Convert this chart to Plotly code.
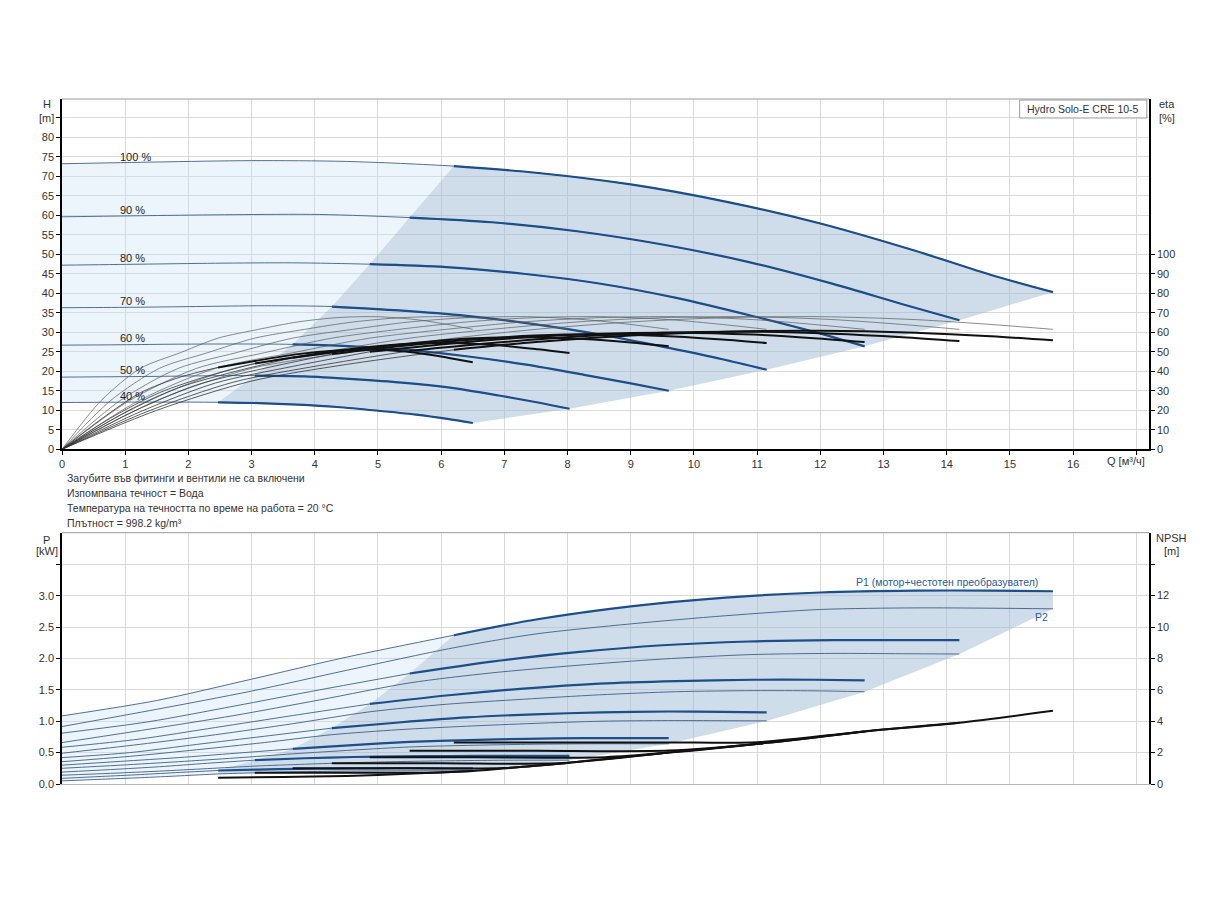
import plotly.graph_objects as go

# speed curves of the pump, %
SPEEDS = [100, 90, 80, 70, 60, 50, 40]

# flow points per speed [m3/h]; index 4 is where the preferred (dark) area starts
Q100 = [0, 1.5, 3, 4.5, 6.2, 7.5, 9, 10.5, 12, 13.5, 14.7, 15.68]
Q90 = [0, 1.36, 2.72, 4.08, 5.5, 6.8, 8.15, 9.5, 10.87, 12.2, 13.3, 14.2]
Q80 = [0, 1.22, 2.43, 3.65, 4.87, 6.08, 7.3, 8.5, 9.72, 10.94, 11.9, 12.7]
Q70 = [0, 1.07, 2.13, 3.2, 4.27, 5.33, 6.4, 7.47, 8.53, 9.6, 10.45, 11.15]
Q60 = [0, 0.92, 1.84, 2.75, 3.65, 4.6, 5.5, 6.43, 7.35, 8.26, 9.0, 9.6]
Q50 = [0, 0.77, 1.54, 2.3, 3.05, 3.84, 4.61, 5.38, 6.14, 6.91, 7.53, 8.03]
Q40 = [0, 0.62, 1.24, 1.87, 2.47, 3.11, 3.73, 4.35, 4.97, 5.6, 6.1, 6.5]

# head [m]
H100 = [73.2, 73.65, 74.0, 73.8, 72.6, 70.9, 67.9, 63.5, 57.9, 50.9, 44.7, 40.3]
H90 = [59.6, 59.9, 60.15, 60.2, 59.4, 58.2, 55.9, 52.5, 48.0, 42.4, 37.2, 33.1]
H80 = [47.2, 47.45, 47.7, 47.8, 47.45, 46.7, 45.0, 42.5, 38.8, 34.1, 30.1, 26.4]
H70 = [36.3, 36.4, 36.6, 36.8, 36.6, 35.6, 34.2, 32.1, 29.4, 26.0, 23.1, 20.4]
H60 = [26.7, 26.8, 26.95, 27.0, 26.9, 26.4, 25.4, 23.8, 21.7, 19.1, 16.9, 15.0]
H50 = [18.5, 18.6, 18.7, 18.85, 18.9, 18.7, 18.0, 17.1, 15.8, 13.8, 12.0, 10.4]
H40 = [12.0, 12.05, 12.1, 12.1, 12.05, 11.85, 11.45, 10.85, 9.95, 8.9, 7.8, 6.75]

# pump efficiency [%] (same shape at every speed)
ETA_PUMP = [0, 25, 41.5, 49.5, 57, 61.5, 65.3, 67.5, 68, 66.5, 64, 61.5]

# total efficiency, motor + converter [%]
ETA100 = [0, 20, 35, 43.5, 51, 55, 58.3, 60.3, 60.8, 59.8, 58, 55.9]
ETA90 = [0, 19.5, 34.5, 43, 50.5, 54.5, 57.8, 59.8, 60.3, 59.3, 57.5, 55.5]
ETA80 = [0, 19, 34, 42.5, 50, 54, 57.3, 59.3, 59.8, 58.8, 57, 55]
ETA70 = [0, 18.5, 33, 41.5, 48.8, 52.8, 56, 58.3, 59, 58, 56.3, 54.5]
ETA60 = [0, 17.5, 31.5, 40, 47, 51, 54.3, 56.8, 57.5, 56.5, 54.7, 52.8]
ETA50 = [0, 16, 29, 37.5, 44, 48, 51.5, 53.8, 54.5, 53.3, 51.3, 49.4]
ETA40 = [0, 15.5, 29, 37, 42, 45.6, 48.8, 50.6, 51, 49.5, 47, 44.6]

# P1 input power [kW]
P1_100 = [1.085, 1.33, 1.67, 2.02, 2.37, 2.62, 2.83, 2.97, 3.05, 3.08, 3.08, 3.07]
P1_90 = [0.81, 0.99, 1.24, 1.50, 1.76, 1.95, 2.10, 2.21, 2.27, 2.29, 2.29, 2.29]
P1_80 = [0.585, 0.715, 0.90, 1.09, 1.275, 1.41, 1.52, 1.60, 1.64, 1.66, 1.66, 1.65]
P1_70 = [0.42, 0.50, 0.63, 0.76, 0.89, 0.98, 1.06, 1.11, 1.14, 1.155, 1.15, 1.14]
P1_60 = [0.30, 0.36, 0.42, 0.49, 0.56, 0.62, 0.67, 0.70, 0.72, 0.73, 0.732, 0.73]
P1_50 = [0.19, 0.23, 0.275, 0.33, 0.38, 0.41, 0.43, 0.44, 0.446, 0.449, 0.448, 0.447]
P1_40 = [0.09, 0.12, 0.15, 0.185, 0.215, 0.23, 0.24, 0.245, 0.25, 0.252, 0.251, 0.25]

# P2 shaft power [kW]
P2_100 = [0.915, 1.19, 1.48, 1.81, 2.17, 2.39, 2.55, 2.68, 2.78, 2.805, 2.80, 2.79]
P2_90 = [0.66, 0.87, 1.09, 1.34, 1.61, 1.77, 1.89, 1.99, 2.06, 2.08, 2.075, 2.07]
P2_80 = [0.49, 0.63, 0.785, 0.96, 1.15, 1.27, 1.35, 1.42, 1.47, 1.487, 1.484, 1.47]
P2_70 = [0.355, 0.44, 0.545, 0.66, 0.785, 0.865, 0.92, 0.965, 1.0, 1.01, 1.008, 1.005]
P2_60 = [0.25, 0.30, 0.355, 0.415, 0.48, 0.54, 0.59, 0.615, 0.632, 0.64, 0.641, 0.64]
P2_50 = [0.14, 0.17, 0.205, 0.245, 0.285, 0.315, 0.34, 0.358, 0.37, 0.378, 0.38, 0.38]
P2_40 = [0.05, 0.075, 0.10, 0.13, 0.16, 0.18, 0.195, 0.203, 0.208, 0.21, 0.21, 0.21]

# NPSH [m]
NQ100 = [6.2, 8, 10, 11.0, 12.7, 14.2, 15.68]
NPSH100 = [2.64, 2.64, 2.64, 2.66, 3.35, 3.9, 4.66]
NQ90 = [5.5, 7.5, 9.6, 11.15, 12.7, 14.2]
NPSH90 = [2.12, 2.12, 2.13, 2.62, 3.35, 3.9]
NQ80 = [4.87, 6.5, 8.6, 9.6, 11.15, 12.7]
NPSH80 = [1.70, 1.70, 1.71, 2.0, 2.62, 3.35]
NQ70 = [4.27, 6.0, 7.9, 9.6, 11.15]
NPSH70 = [1.32, 1.32, 1.33, 2.0, 2.62]
NQ60 = [3.65, 5.5, 7.0, 8.03, 9.6]
NPSH60 = [1.0, 1.0, 1.02, 1.36, 2.0]
NQ50 = [3.05, 4.5, 6.0, 6.5, 8.03]
NPSH50 = [0.72, 0.72, 0.74, 0.83, 1.36]
NQ40 = [2.47, 3.5, 4.5, 5.0, 6.5]
NPSH40 = [0.40, 0.45, 0.51, 0.57, 0.83]

NOTES = [
    "Загубите във фитинги и вентили не са включени",
    "Изпомпвана течност = Вода",
    "Температура на течността по време на работа = 20 °C",
    "Плътност = 998.2 kg/m³",
]

C = {
    100: dict(q=Q100, h=H100, eta=ETA100, p1=P1_100, p2=P2_100, nq=NQ100, npsh=NPSH100),
    90: dict(q=Q90, h=H90, eta=ETA90, p1=P1_90, p2=P2_90, nq=NQ90, npsh=NPSH90),
    80: dict(q=Q80, h=H80, eta=ETA80, p1=P1_80, p2=P2_80, nq=NQ80, npsh=NPSH80),
    70: dict(q=Q70, h=H70, eta=ETA70, p1=P1_70, p2=P2_70, nq=NQ70, npsh=NPSH70),
    60: dict(q=Q60, h=H60, eta=ETA60, p1=P1_60, p2=P2_60, nq=NQ60, npsh=NPSH60),
    50: dict(q=Q50, h=H50, eta=ETA50, p1=P1_50, p2=P2_50, nq=NQ50, npsh=NPSH50),
    40: dict(q=Q40, h=H40, eta=ETA40, p1=P1_40, p2=P2_40, nq=NQ40, npsh=NPSH40),
}
B = 4  # boundary index
mid = SPEEDS[1:-1]          # 90 .. 50
low = SPEEDS[1:]            # 90 .. 40

BLUE = "#1c4e89"
THIN_BLUE = "#3f5f86"
LIGHT_FILL = "rgba(200,225,245,0.35)"
DARK_FILL = "rgba(160,187,213,0.5)"

fig = go.Figure()


def line(x, y, xa, ya, color, width):
    fig.add_trace(go.Scatter(x=x, y=y, xaxis=xa, yaxis=ya, mode="lines",
                             line=dict(color=color, width=width, shape="spline", smoothing=0.8),
                             hoverinfo="skip", showlegend=False))


def area(x, y, xa, ya, color):
    fig.add_trace(go.Scatter(x=x, y=y, xaxis=xa, yaxis=ya, mode="lines", fill="toself",
                             fillcolor=color, line=dict(width=0), hoverinfo="skip",
                             showlegend=False))


# ---- areas, top (H)
area(C[100]["q"][:B + 1] + [C[n]["q"][B] for n in mid] + C[40]["q"][B::-1],
     C[100]["h"][:B + 1] + [C[n]["h"][B] for n in mid] + C[40]["h"][B::-1],
     "x", "y", LIGHT_FILL)
area(C[100]["q"][B:] + [C[n]["q"][-1] for n in mid] + C[40]["q"][:B - 1:-1] + [C[n]["q"][B] for n in mid[::-1]],
     C[100]["h"][B:] + [C[n]["h"][-1] for n in mid] + C[40]["h"][:B - 1:-1] + [C[n]["h"][B] for n in mid[::-1]],
     "x", "y", DARK_FILL)

# ---- areas, bottom (P)
area(C[100]["q"][:B + 1] + [C[n]["q"][B] for n in low] + C[40]["q"][B::-1],
     C[100]["p1"][:B + 1] + [C[n]["p1"][B] for n in low] + C[40]["p2"][B::-1],
     "x2", "y3", LIGHT_FILL)
area(C[40]["q"][B:] + [C[n]["q"][-1] for n in mid[::-1]] + [C[100]["q"][-1]] + C[100]["q"][:B - 1:-1] + [C[n]["q"][B] for n in low],
     C[40]["p2"][B:] + [C[n]["p2"][-1] for n in mid[::-1]] + [C[100]["p2"][-1]] + C[100]["p1"][:B - 1:-1] + [C[n]["p1"][B] for n in low],
     "x2", "y3", DARK_FILL)

# ---- curves
for n in SPEEDS:
    c = C[n]
    q = c["q"]
    # efficiency
    line(q, ETA_PUMP, "x", "y2", "#5a5a5a", 0.7)
    line(q[:B + 1], c["eta"][:B + 1], "x", "y2", "#333333", 0.8)
    line(q[B:], c["eta"][B:], "x", "y2", "#111111", 2)
    # head
    line(q, c["h"], "x", "y", THIN_BLUE, 0.9)
    line(q[B:], c["h"][B:], "x", "y", BLUE, 2.2)
    # power
    line(q, c["p2"], "x2", "y3", THIN_BLUE, 0.9)
    line(q[:B + 1], c["p1"][:B + 1], "x2", "y3", THIN_BLUE, 0.9)
    line(q[B:], c["p1"][B:], "x2", "y3", BLUE, 2.2)
    # NPSH
    line(c["nq"], c["npsh"], "x2", "y4", "#111111", 2)

ann = []
for n in SPEEDS:
    ann.append(dict(x=0.886, y=C[n]["h"][0], xref="x", yref="y", text=f"{n} %", showarrow=False,
                    xanchor="left", yanchor="middle", yshift=7, font=dict(size=11, color="#222")))


def ptxt(x, y, text, **kw):
    d = dict(x=x, y=y, xref="paper", yref="paper", text=text, showarrow=False,
             font=dict(size=11, color="#333"), xanchor="center", yanchor="middle")
    d.update(kw)
    ann.append(d)


ptxt(-0.0138, 0.9927, "H")
ptxt(-0.0138, 0.9723, "[m]")
ptxt(1.0166, 0.9927, "eta")
ptxt(1.0166, 0.9723, "[%]")
ptxt(-0.0138, 0.3562, "P")
ptxt(-0.0138, 0.340, "[kW]")
ptxt(1.021, 0.359, "NPSH")
ptxt(1.021, 0.340, "[m]")
ptxt(0.998, 0.4715, "Q [м³/ч]", xanchor="right")
ptxt(0.939, 0.9854, "Hydro Solo-E CRE 10-5", font=dict(size=10.5, color="#333"))
for i, t in enumerate(NOTES):
    ptxt(0.0028, 0.4467 - i * 0.0219, t, xanchor="left", font=dict(size=10.5, color="#333"))

ann.append(dict(x=C[100]["q"][-1], y=C[100]["p1"][-1], xref="x2", yref="y3",
                text="P1 (мотор+честотен преобразувател)", showarrow=False,
                xanchor="right", yanchor="middle", xshift=-13, yshift=9,
                font=dict(size=10.5, color="#2a5c96")))
ann.append(dict(x=C[100]["q"][-1], y=C[100]["p2"][-1], xref="x2", yref="y3", text="P2",
                showarrow=False, xanchor="right", yanchor="middle", xshift=-3, yshift=-8,
                font=dict(size=10.5, color="#2a5c96")))

shapes = [
    dict(type="line", xref="paper", yref="paper", x0=0, x1=1, y0=1, y1=1,
         line=dict(color="#9a9a9a", width=1)),
    dict(type="line", xref="paper", yref="paper", x0=0, x1=1, y0=0.3669, y1=0.3669,
         line=dict(color="#9a9a9a", width=1)),
    dict(type="rect", xref="paper", yref="paper", x0=0.881, x1=0.998, y0=0.9723, y1=0.9985,
         line=dict(color="#9a9a9a", width=1), fillcolor="white"),
]

QMAX = 17.2
grid = "#d9d9d9"
xax = dict(range=[0, QMAX], tickmode="array", tickvals=list(range(18)),
           showgrid=True, gridcolor=grid, gridwidth=1, zeroline=False,
           showline=True, linecolor="black", linewidth=1.5,
           ticks="outside", ticklen=4, tickcolor="black", tickfont=dict(size=11, color="#333"))
yax = dict(showgrid=True, gridcolor=grid, gridwidth=1, zeroline=False,
           showline=True, linecolor="black", linewidth=1.5,
           ticks="outside", ticklen=4, tickcolor="black", tickfont=dict(size=11, color="#333"))
yax_r = dict(showgrid=False, zeroline=False, showline=True, linecolor="black", linewidth=1.5,
             ticks="outside", ticklen=4, tickcolor="black", tickfont=dict(size=11, color="#333"))

h_ticks = list(range(0, 90, 5))
p_ticks = [0, 0.5, 1.0, 1.5, 2.0, 2.5, 3.0, 3.5]
n_ticks = list(range(0, 16, 2))

# the page adds an 8px body margin, so the figure is a little smaller than the window
fig.update_layout(
    width=1208, height=884,
    margin=dict(l=54, r=67, t=91, b=108),
    paper_bgcolor="white", plot_bgcolor="white",
    font=dict(family="Liberation Sans, Arial, sans-serif", size=11, color="#333"),
    showlegend=False,
    xaxis=dict(xax, anchor="y", domain=[0, 1],
               ticktext=[str(i) for i in range(17)] + [""]),
    xaxis2=dict(xax, anchor="y3", domain=[0, 1], showticklabels=False,
                ticks="", linecolor="#b5b5b5", linewidth=1),
    yaxis=dict(yax, anchor="x", domain=[0.4886, 1], range=[0, 89.8],
               tickmode="array", tickvals=h_ticks,
               ticktext=[str(v) if v <= 80 else "" for v in h_ticks]),
    yaxis2=dict(yax_r, anchor="x", overlaying="y", side="right", range=[0, 179.6],
                tickmode="array", tickvals=list(range(0, 101, 10))),
    yaxis3=dict(yax, anchor="x2", domain=[0, 0.3669], range=[0, 4.003],
                tickmode="array", tickvals=p_ticks,
                ticktext=[f"{v:.1f}" if v <= 3.0 else "" for v in p_ticks]),
    yaxis4=dict(yax_r, anchor="x2", overlaying="y3", side="right", range=[0, 16.01],
                tickmode="array", tickvals=n_ticks,
                ticktext=[str(v) if v <= 12 else "" for v in n_ticks]),
    annotations=ann,
    shapes=shapes,
)

fig.write_html("out.html")
